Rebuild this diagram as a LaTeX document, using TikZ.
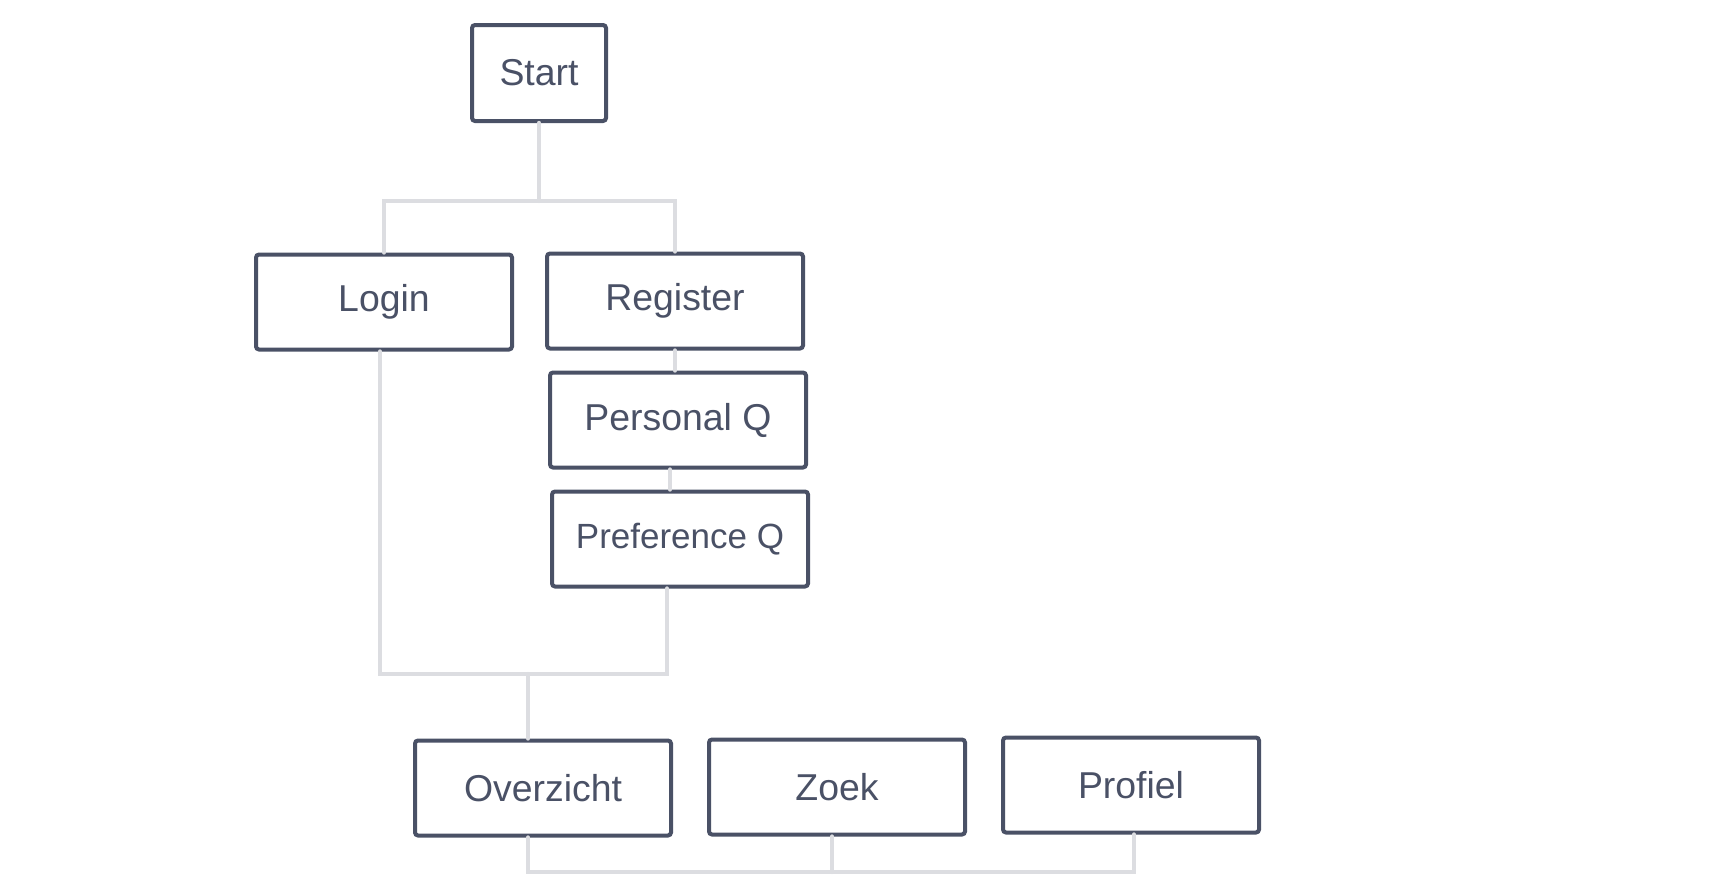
\documentclass[tikz,border=0pt]{standalone}
\usepackage{fontspec}
\setmainfont{Liberation Sans}
\usetikzlibrary{positioning, calc}
\definecolor{inkgray}{HTML}{4A5166}
\definecolor{linegray}{HTML}{DCDDE1}

\begin{document}
\begin{tikzpicture}[
    x=0.5pt, y=-0.5pt,
    box/.style={draw=inkgray, line width=2pt, rounded corners=1.5pt, fill=white,
                minimum width=128pt, minimum height=47.5pt, inner sep=0pt,
                text=inkgray, font=\fontsize{18.7}{22}\selectfont},
    link/.style={draw=linegray, line width=2.2pt, line cap=round}
]
\useasboundingbox (0,0) rectangle (1735,889);

\node[box, minimum width=67pt, minimum height=48pt] (start) at (539,73) {Start};
\node[box] (login)    at (384,302) {Login};
\node[box] (register) at (675,301) {Register};
\node[box] (persq)    at (678,420) {Personal Q};
\node[box, font=\fontsize{17.5}{21}\selectfont] (prefq) at (680,539) {Preference Q};
\node[box] (overzicht) at (543,788) {Overzicht};
\node[box] (zoek)      at (837,787) {Zoek};
\node[box] (profiel)   at (1131,785) {Profiel};

% junction levels
\coordinate (splitA) at (0,201);
\coordinate (joinB)  at (528,674);
\coordinate (busC)   at (0,872);

\draw[link] (start.south) -- (start.south |- splitA);
\draw[link] (login.north) -- (login.north |- splitA) -| (register.north);
\draw[link] (register.south) -- (persq.north -| register.south);
\draw[link] ([xshift=-4pt]persq.south) -- ([xshift=-4pt]persq.south |- prefq.north);
\draw[link] ([xshift=-2pt]login.south) -- ([xshift=-2pt]login.south |- joinB)
    -| ([xshift=-6.5pt]prefq.south);
\draw[link] (joinB) -- (joinB |- overzicht.north);
\draw[link] ([xshift=-7.5pt]overzicht.south) -- ([xshift=-7.5pt]overzicht.south |- busC)
    -| ([xshift=1.5pt]profiel.south);
\draw[link] ([xshift=-2.5pt]zoek.south) -- ([xshift=-2.5pt]zoek.south |- busC);
\end{tikzpicture}
\end{document}
